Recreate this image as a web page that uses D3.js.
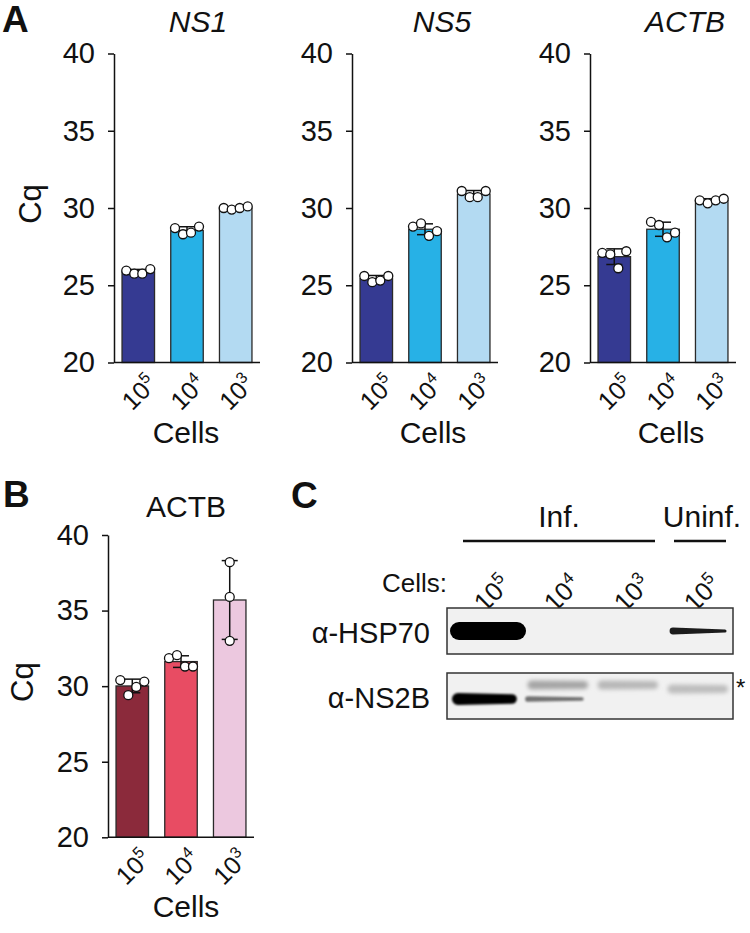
<!DOCTYPE html>
<html>
<head>
<meta charset="utf-8">
<script src="https://cdn.jsdelivr.net/npm/d3@7"></script>
<style>
  body { margin: 0; background: #fff; }
  text { font-family: "Liberation Sans", Arial, sans-serif; fill: #111; }
</style>
</head>
<body>
<div id="chart"></div>
<script>
var width = 750,
    height = 933;

// ---- data ----
var cells = ["5", "4", "3"];            // 10^5, 10^4, 10^3 cells
var genesA = ["NS1", "NS5", "ACTB"];

var ns1Cq  = [[25.95, 25.75, 25.75, 26.05], [28.7, 28.3, 28.4, 28.8], [30.0, 29.9, 30.0, 30.1]];
var ns5Cq  = [[25.6, 25.2, 25.3, 25.6], [28.8, 29.0, 28.2, 28.5], [31.1, 30.7, 30.7, 31.1]];
var actbCq = [[27.1, 27.0, 26.1, 27.2], [29.1, 28.9, 28.1, 28.4], [30.5, 30.3, 30.5, 30.6]];
var actbBCq = [[30.4, 29.4, 29.95, 30.3], [31.85, 32.05, 31.3, 31.3], [38.2, 35.9, 33.0]];

var yTicks = [20, 25, 30, 35, 40];

var blotLanes = ["5", "4", "3", "5"];
var hsp70Signal = [1.0, 0, 0, 0.55];
var ns2bSignal = [0.85, 0.4, 0, 0];
var ns2bBackground = [0, 0.3, 0.22, 0.2];   // the * band

var colorsA = ["#353a92", "#27b1e6", "#b3daf2"];
var colorsB = ["#8b2a3b", "#e84c63", "#ecc8df"];

var svg = d3.select("#chart")
    .append("svg")
    .attr("width", width)
    .attr("height", height);

var defs = svg.append("defs");
[0.6, 1.2, 2.2].forEach(function(s, i) {
  defs.append("filter").attr("id", "blur" + i)
      .attr("x", "-20%").attr("y", "-60%").attr("width", "140%").attr("height", "220%")
    .append("feGaussianBlur").attr("stdDeviation", s);
});

function superLabel(sel, exp, big, small, raise) {
  sel.append("tspan").text("10").attr("font-size", big);
  sel.append("tspan").text(exp).attr("font-size", small).attr("dy", -raise);
}

// one bar panel
function drawBars(opt) {
  var g = svg.append("g");

  var y = d3.scaleLinear().domain([20, 40]).range([opt.y0, opt.y1]);
  var x = d3.scaleBand().domain(cells)
      .range([opt.ax, opt.ax + 146])
      .paddingInner(0.333).paddingOuter(0.165);

  var yAxis = d3.axisLeft(y).tickValues(yTicks).tickSize(6).tickSizeOuter(0).tickPadding(13);
  var ag = g.append("g").attr("transform", "translate(" + opt.ax + ",0)").call(yAxis);
  ag.attr("font-size", 29).attr("font-family", "Liberation Sans, Arial, sans-serif");
  ag.selectAll("text").attr("font-size", 29).attr("fill", "#111");
  ag.selectAll("line, path").attr("stroke", "#111").attr("stroke-width", 1.5);

  var stats = opt.data.map(function(v, i) {
    return {c: cells[i], v: v, m: d3.mean(v), sd: d3.deviation(v), col: opt.colors[i]};
  });

  g.selectAll("rect.bar").data(stats).enter().append("rect")
      .attr("x", function(d) { return x(d.c); })
      .attr("width", x.bandwidth())
      .attr("y", function(d) { return y(d.m); })
      .attr("height", function(d) { return y(20) - y(d.m); })
      .attr("fill", function(d) { return d.col; })
      .attr("stroke", "#2a2a2a").attr("stroke-width", 1.3);

  // baseline
  g.append("line").attr("x1", opt.ax).attr("x2", opt.ax + 146)
      .attr("y1", y(20)).attr("y2", y(20))
      .attr("stroke", "#111").attr("stroke-width", 1.5);

  // error bars (SD)
  var eb = g.selectAll("g.err").data(stats).enter().append("g")
      .attr("transform", function(d) { return "translate(" + (x(d.c) + x.bandwidth() / 2) + ",0)"; });
  eb.append("line").attr("y1", function(d) { return y(d.m - d.sd); })
      .attr("y2", function(d) { return y(d.m + d.sd); })
      .attr("stroke", "#111").attr("stroke-width", 1.5);
  eb.selectAll("line.cap").data(function(d) { return [d.m - d.sd, d.m + d.sd]; }).enter()
    .append("line").attr("x1", -8).attr("x2", 8)
      .attr("y1", function(d) { return y(d); }).attr("y2", function(d) { return y(d); })
      .attr("stroke", "#111").attr("stroke-width", 1.5);

  // points
  eb.selectAll("circle").data(function(d) {
      var off = d.v.length === 4 ? [-12, -4, 4, 12] : [0, 0, 0];
      return d.v.map(function(v, i) { return {v: v, dx: off[i]}; });
    }).enter().append("circle")
      .attr("cx", function(d) { return d.dx; })
      .attr("cy", function(d) { return y(d.v); })
      .attr("r", 4.5)
      .attr("fill", "#fff").attr("stroke", "#111").attr("stroke-width", 1.3);

  // x labels
  g.selectAll("text.xl").data(cells).enter().append("text")
      .attr("text-anchor", "end")
      .attr("transform", function(d) {
        return "translate(" + (x(d) + x.bandwidth() / 2 + 20) + "," + (y(20) + 23) + ") rotate(-45)";
      })
      .each(function(d) { superLabel(d3.select(this), d, 25, 16, 10); });

  g.append("text").attr("x", opt.cellsX).attr("y", opt.y0 + 80)
      .attr("text-anchor", "middle").attr("font-size", 30).text("Cells");

  g.append("text").attr("x", opt.titleX).attr("y", opt.titleY)
      .attr("text-anchor", "middle").attr("font-size", 30)
      .attr("font-style", opt.italic ? "italic" : "normal").text(opt.title);

  if (opt.cq) {
    g.append("text").attr("transform", "translate(" + opt.cqX + "," + ((opt.y0 + opt.y1) / 2 - 4) + ") rotate(-90)")
        .attr("text-anchor", "middle").attr("font-size", 31).text("Cq");
  }
}

var panelA = [
  {ax: 114, titleX: 198, cellsX: 186},
  {ax: 352, titleX: 442, cellsX: 433},
  {ax: 590, titleX: 685, cellsX: 671}
];
var dataA = [ns1Cq, ns5Cq, actbCq];

panelA.forEach(function(p, i) {
  drawBars({ax: p.ax, y0: 362.5, y1: 53.5, data: dataA[i], colors: colorsA,
            title: genesA[i], italic: true, titleX: p.titleX, titleY: 32,
            cellsX: p.cellsX, cq: i === 0, cqX: 41});
});

drawBars({ax: 108, y0: 837.3, y1: 535, data: actbBCq, colors: colorsB,
          title: "ACTB", italic: false, titleX: 186, titleY: 517,
          cellsX: 186, cq: true, cqX: 33});

// panel letters
[["A", 2, 32], ["B", 3, 507], ["C", 291, 508]].forEach(function(l) {
  svg.append("text").attr("x", l[1]).attr("y", l[2])
      .attr("font-size", 37).attr("font-weight", "bold").text(l[0]);
});

// ---- panel C: western blot ----
var lx = d3.scalePoint().domain(d3.range(blotLanes.length)).range([488, 698]);
var shade = d3.scaleLinear().domain([0, 1]).range(["#ececec", "#000"]).clamp(true);

svg.append("text").attr("x", 559).attr("y", 527).attr("text-anchor", "middle")
    .attr("font-size", 30).text("Inf.");
svg.append("text").attr("x", 702).attr("y", 527).attr("text-anchor", "middle")
    .attr("font-size", 30).text("Uninf.");
svg.append("line").attr("x1", 463).attr("x2", 655).attr("y1", 541).attr("y2", 541)
    .attr("stroke", "#111").attr("stroke-width", 2.5);
svg.append("line").attr("x1", 674).attr("x2", 726).attr("y1", 541).attr("y2", 541)
    .attr("stroke", "#111").attr("stroke-width", 2.5);

svg.append("text").attr("x", 447).attr("y", 592).attr("text-anchor", "end")
    .attr("font-size", 26).text("Cells:");
svg.selectAll("text.lane").data(blotLanes).enter().append("text")
    .attr("text-anchor", "end")
    .attr("transform", function(d, i) { return "translate(" + (lx(i) + 24) + ",586) rotate(-45)"; })
    .each(function(d) { superLabel(d3.select(this), d, 26, 17, 10); });

var blots = [
  {name: "\u03b1-HSP70", top: 608, bottom: 654, labelY: 643},
  {name: "\u03b1-NS2B", top: 673, bottom: 719, labelY: 708}
];
blots.forEach(function(b) {
  svg.append("rect").attr("x", 447).attr("y", b.top)
      .attr("width", 286).attr("height", b.bottom - b.top)
      .attr("fill", "#f1f1f1").attr("stroke", "#333").attr("stroke-width", 1.5);
  svg.append("text").attr("x", 430).attr("y", b.labelY).attr("text-anchor", "end")
      .attr("font-size", 29).text(b.name);
});

function band(cx, cy, w, hl, hr, color, blur) {
  var x0 = cx - w / 2, x1 = cx + w / 2;
  var p = "M" + x0 + "," + (cy - hl / 2) +
          " L" + x1 + "," + (cy - hr / 2) +
          " A" + (hr / 2) + "," + (hr / 2) + " 0 0 1 " + x1 + "," + (cy + hr / 2) +
          " L" + x0 + "," + (cy + hl / 2) +
          " A" + (hl / 2) + "," + (hl / 2) + " 0 0 1 " + x0 + "," + (cy - hl / 2) + "Z";
  svg.append("path").attr("d", p).attr("fill", color).attr("filter", "url(#blur" + blur + ")");
}

hsp70Signal.forEach(function(s, i) {
  if (!s) return;
  var h = 2 + 16 * s * s;
  band(lx(i) + (i === 0 ? 0 : 1), 631, i === 0 ? 58 : 52, h, s > 0.8 ? h : h * 0.45,
       shade(s * 1.6), 0);
});
ns2bBackground.forEach(function(s, i) {
  if (!s) return;
  band(lx(i), i === 3 ? 689 : 685, 52, 9, 8, shade(s), 2);
});
ns2bSignal.forEach(function(s, i) {
  if (!s) return;
  var h = 2 + 14 * s * s;
  band(lx(i) - 3, 699, 54, h + (s < 0.5 ? 1.5 : 0), h * 0.8, shade(s * 1.3), 1);
});

svg.append("text").attr("x", 736).attr("y", 696).attr("font-size", 24).text("*");
</script>
</body>
</html>
